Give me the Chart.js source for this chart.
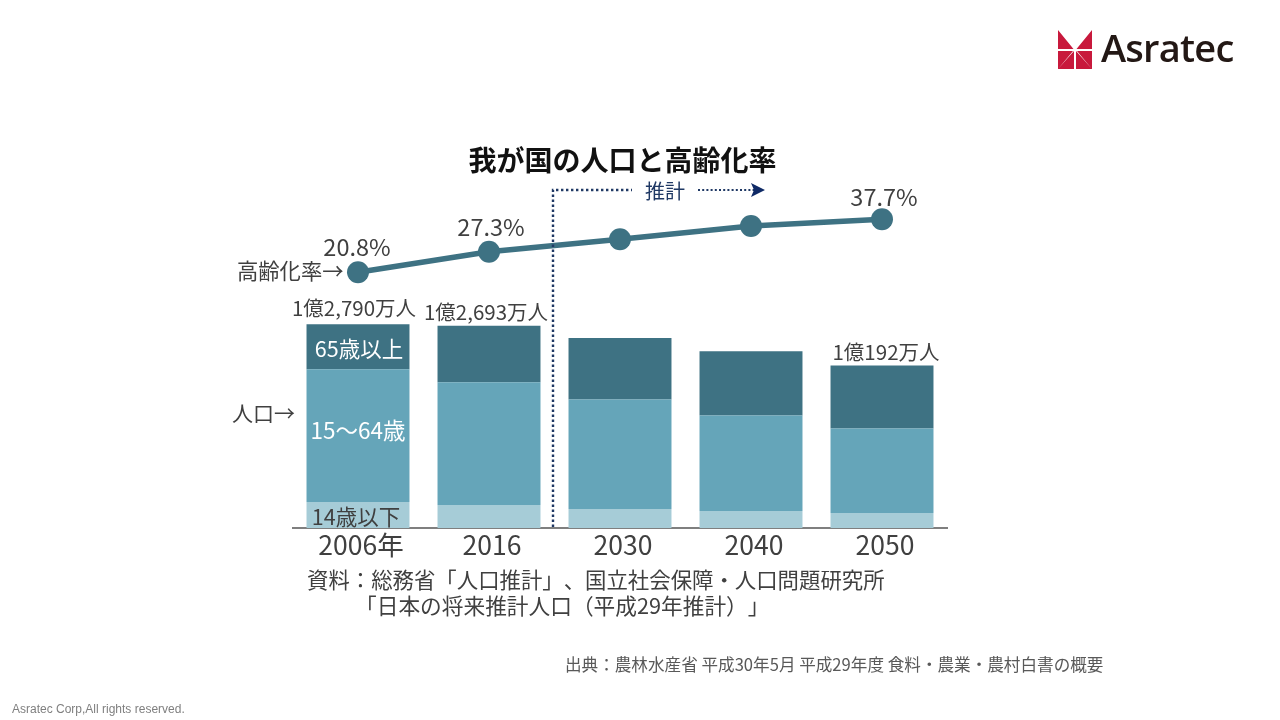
<!DOCTYPE html>
<html lang="ja">
<head>
<meta charset="utf-8">
<title>我が国の人口と高齢化率</title>
<script src="https://cdn.jsdelivr.net/npm/chart.js@4"></script>
<style>
html,body{margin:0;padding:0;background:#fff;width:1280px;height:720px;overflow:hidden}
#wrap{position:relative;width:1280px;height:720px;font-family:"Noto Sans CJK JP","Noto Sans",sans-serif;text-spacing-trim:space-all;font-kerning:none}
canvas{position:absolute;left:0;top:0}
.t{position:absolute;white-space:nowrap;line-height:1}
#logoText{left:1101px;top:28px;font:600 38px/1 "Open Sans",sans-serif;color:#231815;letter-spacing:-0.75px}
#src{left:565px;top:656px;font-size:16.6px;color:#595959}
#copy{left:12px;top:703px;font:12px/1 "Liberation Sans",sans-serif;color:#7f7f7f}
#s1{left:307px;top:568px;font-size:21.4px;color:#404040}
#s2{left:355px;top:594px;font-size:21.7px;color:#404040}
svg{position:absolute;left:1058px;top:30px}
</style>
</head>
<body>
<div id="wrap">
<canvas id="c" width="1280" height="720"></canvas>
<svg width="35" height="40" viewBox="0 0 35 40">
<path fill="#c8193c" d="M0 0 L15.5 19 L0 19Z M34 0 L34 19 L18.5 19Z M0 21 L15 21 L0 39Z M0 39 L16 21 L16 39Z M34 21 L19 21 L34 39Z M34 39 L18 21 L18 39Z"/>
</svg>
<div class="t" id="logoText">Asratec</div>
<div class="t" id="s1">資料：総務省「人口推計」、国立社会保障・人口問題研究所</div>
<div class="t" id="s2">「日本の将来推計人口（平成29年推計）」</div>
<div class="t" id="src">出典：農林水産省 平成30年5月 平成29年度 食料・農業・農村白書の概要</div>
<div class="t" id="copy">Asratec Corp,All rights reserved.</div>
</div>
<script>
const years = ['2006年','2016','2030','2040','2050'];
const under15 = [1638,1449,1197,1071,945];
const working = [8317,7687,6868,5986,5293];
const over65 = [2835,3557,3848,4035,3954];
const agingRate = [20.8,27.3,31.3,35.5,37.7];
const rateLabels = ['20.8%','27.3%','','','37.7%'];
const totalLabels = ['1億2,790万人','1億2,693万人','','','1億192万人'];
const seriesNames = ['14歳以下','15〜64歳','65歳以上','高齢化率'];

const FONT = '"Noto Sans CJK JP","Noto Sans",sans-serif';
const INK = '#404040', NAVY = '#1f3864', DARK = '#3e7283', MID = '#65a5b9', LIGHT = '#a6ccd7';

function text(ctx, s, x, y, size, color, align){
  ctx.font = size + 'px ' + FONT;
  ctx.fillStyle = color;
  ctx.textAlign = align || 'center';
  ctx.textBaseline = 'middle';
  ctx.fillText(s, x, y);
}

const annotations = {
  id: 'annotations',
  afterLayout(chart){
    chart.titleBlock.left += 2.5;
    chart.titleBlock.right += 2.5;
  },
  afterDatasetsDraw(chart){
    const ctx = chart.ctx, x = chart.scales.x, y = chart.scales.y, y1 = chart.scales.y1;
    ctx.save();
    const lineMeta = chart.getDatasetMeta(3);
    rateLabels.forEach((s,i)=>{
      if(s) text(ctx, s, lineMeta.data[i].x + (i===0?-1:2), y1.getPixelForValue(agingRate[i]) - (i===4?22:25), 23.5, INK);
    });
    const topOffsets = [16, 13, 0, 0, 13];
    const xOffsets = [-4, -3, 0, 0, 4];
    totalLabels.forEach((s,i)=>{
      const sum = under15[i]+working[i]+over65[i];
      if(s) text(ctx, s, x.getPixelForValue(i)+xOffsets[i], y.getPixelForValue(sum)-topOffsets[i], 20.5, INK);
    });
    const cx = x.getPixelForValue(0);
    text(ctx, seriesNames[2], cx+1, y.getPixelForValue(under15[0]+working[0]+over65[0]/2)+2, 21.5, '#ffffff');
    text(ctx, seriesNames[1], cx, y.getPixelForValue(under15[0]+working[0]/2)-5, 22.5, '#ffffff');
    text(ctx, seriesNames[0], cx-2, y.getPixelForValue(under15[0]/2)+2, 21.5, INK);
    text(ctx, '高齢化率→', 237, 271, 21.3, INK, 'left');
    text(ctx, '人口→', 232, 413, 21, INK, 'left');
    const bx = (x.getPixelForValue(1)+x.getPixelForValue(2))/2 - 1.5;
    ctx.strokeStyle = NAVY; ctx.lineWidth = 2.4; ctx.setLineDash([2.4,2.6]);
    ctx.beginPath(); ctx.moveTo(bx, chart.chartArea.bottom-1); ctx.lineTo(bx, 190); ctx.lineTo(632, 190); ctx.stroke();
    ctx.lineWidth = 2; ctx.setLineDash([2,2.2]);
    ctx.beginPath(); ctx.moveTo(698, 190); ctx.lineTo(754, 190); ctx.stroke();
    ctx.setLineDash([]);
    ctx.fillStyle = '#0f2a66';
    ctx.beginPath(); ctx.moveTo(751,183); ctx.lineTo(765,190); ctx.lineTo(751,197); ctx.lineTo(754,190); ctx.closePath(); ctx.fill();
    text(ctx, '推計', 665, 191, 20, NAVY);
    ctx.restore();
  }
};

new Chart(document.getElementById('c'), {
  data: {
    labels: years,
    datasets: [
      {type:'bar', label:seriesNames[0], data:under15, backgroundColor:LIGHT, yAxisID:'y', order:1},
      {type:'bar', label:seriesNames[1], data:working, backgroundColor:MID, yAxisID:'y', order:2},
      {type:'bar', label:seriesNames[2], data:over65, backgroundColor:DARK, yAxisID:'y', order:3},
      {type:'line', label:seriesNames[3], data:agingRate, borderColor:DARK, backgroundColor:DARK, borderWidth:5.5,
       pointRadius:11, pointBackgroundColor:DARK, pointBorderWidth:0, tension:0, yAxisID:'y1', order:0}
    ]
  },
  options: {
    responsive:false, animation:false, devicePixelRatio:1,
    barPercentage:0.786, categoryPercentage:1,
    layout:{padding:{left:292.5,right:332.5,top:144,bottom:152}},
    plugins:{
      legend:{display:false}, tooltip:{enabled:false},
      title:{display:true, text:'我が国の人口と高齢化率', color:'#111111', padding:{top:0,bottom:1},
             font:{family:FONT, size:28, weight:'bold', lineHeight:1.2}}
    },
    scales:{
      x:{stacked:true, grid:{display:false, drawTicks:false},
         border:{color:'#7f7f7f', width:2},
         ticks:{color:INK, font:{family:FONT, size:26.5}, padding:1, maxRotation:0, labelOffset:3},
         afterFit(s){ s.height = 40; }},
      y:{stacked:true, display:false, min:0, max:21920},
      y1:{display:false, min:-60.67, max:50.62}
    }
  },
  plugins:[annotations]
});
</script>
</body>
</html>
